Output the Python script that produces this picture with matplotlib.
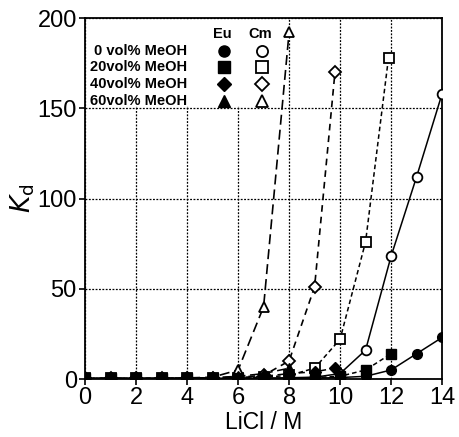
import matplotlib.pyplot as plt
from matplotlib.patches import Rectangle

plt.rcParams['font.family'] = ['Liberation Sans', 'DejaVu Sans']

# Eu (filled symbols)
eu0_x = [0, 1, 2, 3, 4, 5, 6, 7, 8, 9, 10, 11, 12, 13, 14]
eu0_y = [0.3, 0.3, 0.3, 0.3, 0.3, 0.3, 0.3, 0.3, 0.4, 0.5, 0.8, 1.5, 5, 14, 23]
eu20_x = [0, 1, 2, 3, 4, 5, 6, 7, 8, 9, 10, 11, 12]
eu20_y = [0.3, 0.3, 0.3, 0.3, 0.3, 0.3, 0.3, 0.3, 0.5, 0.8, 1.5, 5, 14]
eu40_x = [0, 1, 2, 3, 4, 5, 6, 7, 8, 9, 9.8]
eu40_y = [0.3, 0.3, 0.3, 0.3, 0.5, 0.6, 0.8, 1.5, 3, 4, 6]
eu60_x = [0, 1, 2, 3, 4, 5, 6, 7, 8]
eu60_y = [0.3, 0.3, 0.3, 0.3, 0.5, 0.8, 1.5, 3, 6]

# Cm (open symbols)
cm0_x = [0, 1, 2, 3, 4, 5, 6, 7, 8, 9, 10, 11, 12, 13, 14]
cm0_y = [0.3, 0.3, 0.3, 0.3, 0.3, 0.3, 0.4, 0.5, 0.7, 1, 3, 16, 68, 112, 158]
cm20_x = [0, 1, 2, 3, 4, 5, 6, 7, 8, 9, 10, 11, 11.9]
cm20_y = [0.3, 0.3, 0.3, 0.3, 0.4, 0.5, 0.7, 1, 2, 6, 22, 76, 178]
cm40_x = [0, 1, 2, 3, 4, 5, 6, 7, 8, 9, 9.8]
cm40_y = [0.3, 0.3, 0.3, 0.3, 0.4, 0.6, 1, 2, 10, 51, 170]
cm60_x = [0, 1, 2, 3, 4, 5, 6, 7, 8]
cm60_y = [0.3, 0.3, 0.3, 0.4, 0.6, 1, 5, 40, 192]

row_labels = ['0 vol% MeOH', '20vol% MeOH', '40vol% MeOH', '60vol% MeOH']
markers = ['o', 's', 'D', '^']

fig = plt.figure(figsize=(4.6, 4.37), dpi=100)
ax = fig.add_axes([0.185, 0.1327, 0.776, 0.826])

ax.set_xlim(0, 14)
ax.set_ylim(0, 200)
ax.set_xticks(range(0, 15, 2))
ax.set_yticks([0, 50, 100, 150, 200])
ax.grid(True, color='black', linestyle=(0, (1.5, 1.2)), linewidth=0.9)
ax.set_axisbelow(True)

ms = 7
# Cm curves
ax.plot(cm0_x, cm0_y, color='black', lw=1.1, ls='-', marker='o', ms=ms, mfc='white', mec='black', mew=1.3, zorder=3)
ax.plot(cm20_x, cm20_y, color='black', lw=1.1, ls=(0, (3, 2)), marker='s', ms=ms, mfc='white', mec='black', mew=1.3, zorder=3)
ax.plot(cm40_x, cm40_y, color='black', lw=1.2, ls=(0, (4, 3)), marker='D', ms=ms - 1, mfc='white', mec='black', mew=1.3, zorder=3)
ax.plot(cm60_x, cm60_y, color='black', lw=1.2, ls=(0, (6, 3)), marker='^', ms=ms, mfc='white', mec='black', mew=1.3, zorder=3)
# Eu curves
ax.plot(eu0_x, eu0_y, color='black', lw=1.1, ls='-', marker='o', ms=ms, mfc='black', mec='black', zorder=4)
ax.plot(eu20_x, eu20_y, color='black', lw=1.1, ls=(0, (3, 2)), marker='s', ms=ms, mfc='black', mec='black', zorder=4)
ax.plot(eu40_x, eu40_y, color='black', lw=1.1, ls=(0, (4, 3)), marker='D', ms=ms - 1, mfc='black', mec='black', zorder=4)
ax.plot(eu60_x, eu60_y, color='black', lw=1.1, ls=(0, (6, 3)), marker='^', ms=ms, mfc='black', mec='black', zorder=4)

# legend block (white panel above the 150 gridline)
ax.add_patch(Rectangle((0.005, 0.755), 0.52, 0.24, transform=ax.transAxes,
                       facecolor='white', edgecolor='none', zorder=2))
ax.text(0.385, 0.957, 'Eu', transform=ax.transAxes, ha='center', va='center',
        fontsize=10.5, fontweight='bold', zorder=5)
ax.text(0.49, 0.957, 'Cm', transform=ax.transAxes, ha='center', va='center',
        fontsize=10.5, fontweight='bold', zorder=5)
row_y = [0.91, 0.863, 0.816, 0.77]
for lab, mk, yy in zip(row_labels, markers, row_y):
    ax.text(0.286, yy, lab, transform=ax.transAxes, ha='right', va='center',
            fontsize=10.5, fontweight='bold', zorder=5)
    ax.plot([0.39], [yy], transform=ax.transAxes, marker=mk, ms=ms + 1 - (1 if mk == 'D' else 0),
            mfc='black', mec='black', ls='none', zorder=5, clip_on=False)
    ax.plot([0.495], [yy], transform=ax.transAxes, marker=mk, ms=ms + 1 - (1 if mk == 'D' else 0),
            mfc='white', mec='black', mew=1.3, ls='none', zorder=5, clip_on=False)

for sp in ax.spines.values():
    sp.set_linewidth(1.3)
ax.tick_params(direction='out', length=4, width=1.2, labelsize=17, pad=2)
ax.set_xlabel('LiCl / M', fontsize=16.5, labelpad=1)
ax.set_ylabel(r'$K_\mathrm{d}$', fontsize=19, labelpad=0)

fig.savefig('out.png', dpi=100)
